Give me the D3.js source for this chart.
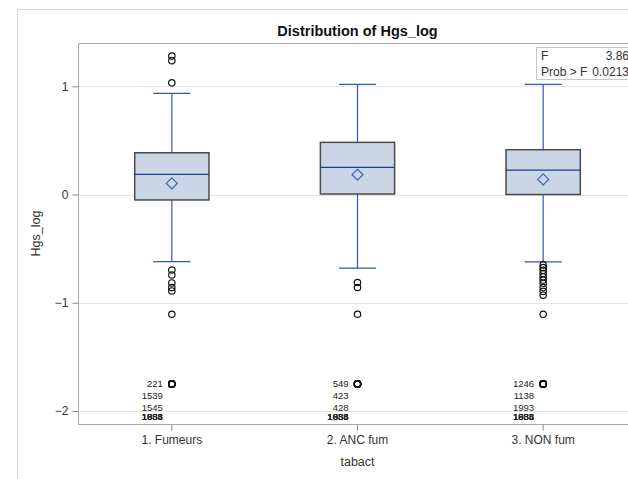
<!DOCTYPE html>
<html><head><meta charset="utf-8">
<script src="https://cdn.jsdelivr.net/npm/d3@7"></script>
<style>
html,body{margin:0;padding:0;background:#fff;}
svg{display:block;font-family:"Liberation Sans",Arial,sans-serif;}
</style></head>
<body><svg id="c" width="628" height="479"></svg>
<script>
const categories = ["1. Fumeurs", "2. ANC fum", "3. NON fum"];
const q1 = [-0.05, 0.005, 0.0];
const medians = [0.186, 0.251, 0.226];
const q3 = [0.386, 0.482, 0.414];
const means = [0.103, 0.183, 0.140];
const whiskerLow = [-0.62, -0.679, -0.623];
const whiskerHigh = [0.934, 1.017, 1.017];
const outliers = [
  [1.279, 1.237, 1.032, -0.697, -0.743, -0.817, -0.859, -0.891, -1.106],
  [-0.813, -0.859, -1.106],
  [-0.65, -0.675, -0.70, -0.73, -0.76, -0.79, -0.82, -0.86, -0.895, -0.93, -1.106]
];
const lowValue = -1.75;
const lowLabels = [
  ["221", "1539", "1545", "1888", "1655", "1034", "1933"],
  ["549", "423", "428", "1888", "1655", "1034", "1933"],
  ["1246", "1138", "1993", "1888", "1655", "1034", "1933"]
];
const yTicks = [-2, -1, 0, 1];
const titleText = "Distribution of Hgs_log";
const xTitle = "tabact";
const yTitle = "Hgs_log";
const statNames = ["F", "Prob > F"];
const statValues = ["3.86", "0.0213"];

const svg = d3.select("#c");
const L = 79, R = 636, T = 43, B = 424;
const x = d3.scaleBand().domain(categories).range([L, R]).padding(0);
const y = d3.scaleLinear().domain([-2.12, 1.40]).range([B, T]);
const bw = x.bandwidth() * 0.4;
const cx = c => x(c) + x.bandwidth() / 2;

// outer frame
svg.append("line").attr("x1", 17.5).attr("x2", 17.5).attr("y1", 9.5).attr("y2", 479).attr("stroke", "#d4d4d4");
svg.append("line").attr("x1", 17.5).attr("x2", 628).attr("y1", 9.5).attr("y2", 9.5).attr("stroke", "#d4d4d4");

// title
svg.append("text").attr("x", (L + R) / 2).attr("y", 36).attr("text-anchor", "middle")
  .attr("font-size", 14.5).attr("font-weight", "bold").attr("fill", "#111").text(titleText);

// gridlines
svg.append("g").selectAll("line").data(yTicks).join("line")
  .attr("x1", L).attr("x2", R).attr("y1", d => Math.round(y(d)) + 0.5).attr("y2", d => Math.round(y(d)) + 0.5)
  .attr("stroke", "#e4e4e4");

// axes
const yAxis = svg.append("g").attr("transform", `translate(${L - 0.5},0)`)
  .call(d3.axisLeft(y).tickValues(yTicks).tickSize(6).tickPadding(4).tickFormat(d3.format("d")));
yAxis.select(".domain").remove();
yAxis.selectAll("line").attr("stroke", "#888");
yAxis.selectAll("text").attr("font-size", 12).attr("fill", "#333").attr("font-family", "Liberation Sans, Arial, sans-serif");

const xAxis = svg.append("g").attr("transform", `translate(0,${B + 0.5})`)
  .call(d3.axisBottom(x).tickSize(6).tickPadding(5));
xAxis.select(".domain").remove();
xAxis.selectAll("line").attr("stroke", "#888");
xAxis.selectAll("text").attr("font-size", 12).attr("fill", "#333").attr("font-family", "Liberation Sans, Arial, sans-serif");

// plot frame
svg.append("rect").attr("x", L - 0.5).attr("y", T + 0.5).attr("width", R - L).attr("height", B - T)
  .attr("fill", "none").attr("stroke", "#a8a8a8");

// axis titles
svg.append("text").attr("x", (L + R) / 2).attr("y", 466).attr("text-anchor", "middle")
  .attr("font-size", 12.5).attr("fill", "#333").text(xTitle);
svg.append("text").attr("transform", `translate(40,${(T + B) / 2}) rotate(-90)`).attr("text-anchor", "middle")
  .attr("font-size", 12.5).attr("fill", "#333").text(yTitle);

// boxes
const g = svg.append("g");
const whiskCol = "#2f5aa8", medCol = "#1c3f95";
categories.forEach((c, i) => {
  const X = cx(c);
  // whiskers
  g.append("line").attr("x1", X).attr("x2", X).attr("y1", y(q3[i])).attr("y2", y(whiskerHigh[i])).attr("stroke", whiskCol).attr("stroke-width", 1.2);
  g.append("line").attr("x1", X).attr("x2", X).attr("y1", y(q1[i])).attr("y2", y(whiskerLow[i])).attr("stroke", whiskCol).attr("stroke-width", 1.2);
  [whiskerHigh[i], whiskerLow[i]].forEach(v => {
    g.append("line").attr("x1", X - bw / 4).attr("x2", X + bw / 4).attr("y1", y(v)).attr("y2", y(v)).attr("stroke", whiskCol).attr("stroke-width", 1.2);
  });
  g.append("rect").attr("x", X - bw / 2).attr("y", y(q3[i])).attr("width", bw).attr("height", y(q1[i]) - y(q3[i]))
    .attr("fill", "#cad5e5").attr("stroke", "#4a4a4a").attr("stroke-width", 1.5);
  g.append("line").attr("x1", X - bw / 2).attr("x2", X + bw / 2).attr("y1", y(medians[i])).attr("y2", y(medians[i])).attr("stroke", medCol).attr("stroke-width", 1.3);
  const my = y(means[i]), s = 5.5;
  g.append("path").attr("d", `M${X},${my - s}L${X + s},${my}L${X},${my + s}L${X - s},${my}Z`)
    .attr("fill", "none").attr("stroke", "#3b62b8").attr("stroke-width", 1.2);
  // outliers
  g.selectAll(null).data(outliers[i]).join("circle")
    .attr("cx", X).attr("cy", d => y(d)).attr("r", 3.2)
    .attr("fill", "none").attr("stroke", "#111").attr("stroke-width", 1.2);
  // low labelled outliers
  lowLabels[i].forEach((lab, k) => {
    g.append("circle").attr("cx", X).attr("cy", y(lowValue)).attr("r", 3.2)
      .attr("fill", "none").attr("stroke", "#111").attr("stroke-width", 1.3);
    const ly = Math.min(y(lowValue) + k * 12, B - 7);
    g.append("text").attr("x", X - 9).attr("y", ly + 3.3).attr("text-anchor", "end")
      .attr("font-size", 9.5).attr("fill", "#222").text(lab);
  });
});

// inset statistics box
const ins = svg.append("g");
ins.append("rect").attr("x", 536.5).attr("y", 47.5).attr("width", 96).attr("height", 32)
  .attr("fill", "#fff").attr("stroke", "#c8c8c8");
statNames.forEach((n, i) => {
  ins.append("text").attr("x", 541).attr("y", 60 + i * 16).attr("font-size", 12).attr("fill", "#333").text(n);
  ins.append("text").attr("x", 629).attr("y", 60 + i * 16).attr("text-anchor", "end").attr("font-size", 12).attr("fill", "#333").text(statValues[i]);
});
</script></body></html>
